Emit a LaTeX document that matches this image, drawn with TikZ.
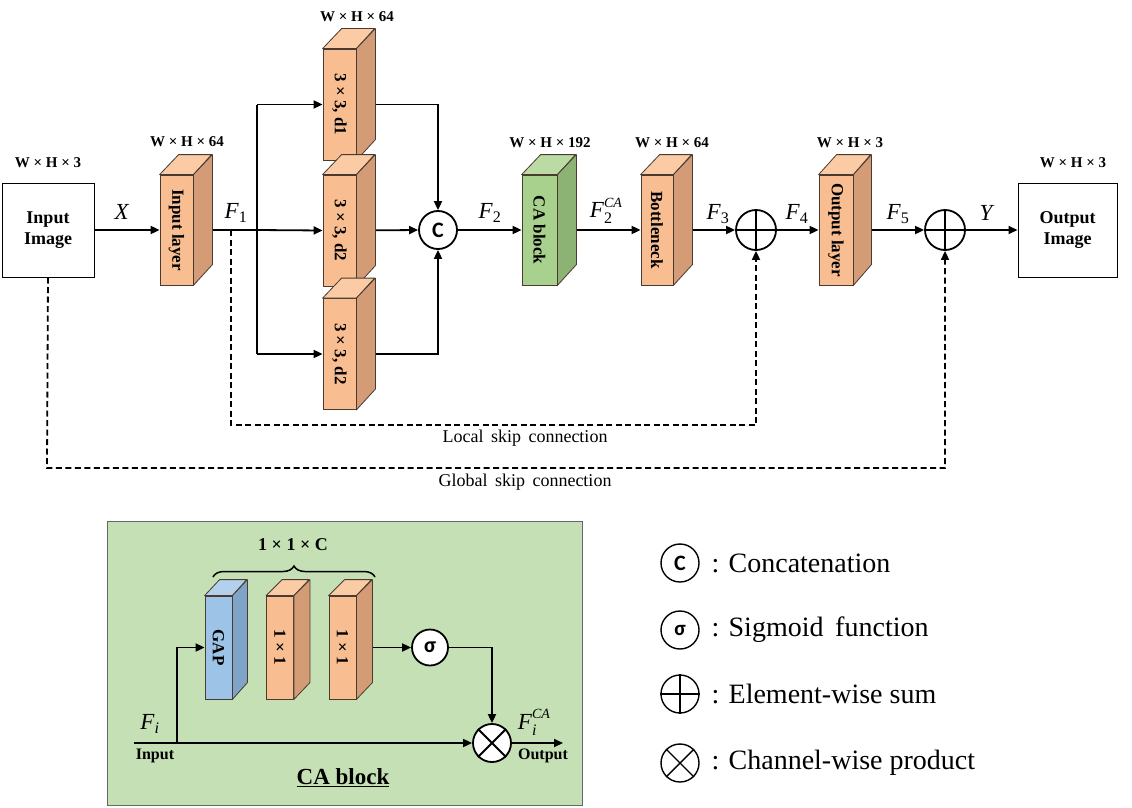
\documentclass[tikz,border=0pt]{standalone}
\usepackage{fontspec}
\usepackage{graphicx}
\setmainfont{Liberation Serif}
\newfontfamily\calfont{Carlito}
\usetikzlibrary{arrows.meta,decorations.pathreplacing,backgrounds,calc}
\pgfdeclarelayer{back}
\pgfsetlayers{back,background,main}
\definecolor{edge}{HTML}{4A3A30}
\definecolor{ofront}{HTML}{F8BE92}
\definecolor{otop}{HTML}{FACBA4}
\definecolor{oside}{HTML}{D49C76}
\definecolor{gfront}{HTML}{A9D18E}
\definecolor{gtop}{HTML}{BADBA3}
\definecolor{gside}{HTML}{8DB374}
\definecolor{bfront}{HTML}{9DC3E6}
\definecolor{btop}{HTML}{B3D1EC}
\definecolor{bside}{HTML}{7FA4C7}
\definecolor{cabg}{HTML}{C5E0B4}
\tikzset{
  conn/.style={line width=1.8pt, -{Triangle[length=9pt,width=8pt]}},
  wire/.style={line width=1.8pt},
  skipline/.style={line width=1.8pt, dash pattern=on 6pt off 3.5pt},
  skiparrow/.style={skipline, -{Triangle[length=9pt,width=8pt]}},
  dimlab/.style={font=\bfseries\fontsize{15}{18}\selectfont},
  mlab/.style={font=\fontsize{23}{25}\selectfont},
  txtlab/.style={font=\fontsize{18}{20}\selectfont},
  oper/.style={circle, draw, line width=1.8pt, minimum size=38pt, inner sep=0pt, fill=white},
  imgbox/.style={draw, line width=1pt, minimum width=92pt, minimum height=94pt, align=center, font=\bfseries\fontsize{18}{21}\selectfont},
  legtext/.style={anchor=west, font=\fontsize{28}{30}\selectfont},
}
\newcommand\slab[9]{%
  \node[draw=edge, line width=0.8pt, fill=#7front, minimum width=#3pt, minimum height=#4pt, inner sep=0pt, font=\bfseries\fontsize{#9}{#9}\selectfont] (#1) at #2 {\rotatebox{-90}{#8}};
  \draw[draw=edge, line width=0.8pt, fill=#7top, line join=round] (#1.north west) -- ++(#5,-#6) -- ++(#3,0) -- (#1.north east) -- cycle;
  \draw[draw=edge, line width=0.8pt, fill=#7side, line join=round] (#1.north east) -- ++(#5,-#6) -- ++(0,#4) -- (#1.south east) -- cycle;
}
\newcommand\subsup[2]{\raisebox{-6pt}{\shortstack[l]{\fontsize{14}{14}\selectfont\textit{#2}\\[3pt]\fontsize{16}{16}\selectfont #1}}}
\begin{document}
\begin{tikzpicture}[x=1pt,y=-1pt]
\useasboundingbox (0,0) rectangle (1132,808);

% ---------- top network ----------
\node[imgbox] (inimg) at (48,230) {Input\\Image};
\node[dimlab] at (48,163) {W × H × 3};

\slab{inl}{(176.5,230)}{33}{110}{19}{20}{o}{Input layer}{17}
\node[dimlab] at (187,142) {W × H × 64};

\slab{da}{(339.5,104.5)}{33}{111}{19}{20}{o}{3 × 3, d1}{17}
\slab{db}{(339.5,230.5)}{33}{111}{19}{20}{o}{3 × 3, d2}{17}
\slab{dc}{(339.5,354)}{33}{111}{19}{20}{o}{3 × 3, d2}{17}
\node[dimlab] at (357,17) {W × H × 64};

\node[oper] (cc) at (438,230) {\calfont\bfseries\fontsize{22}{22}\selectfont C};

\slab{ca}{(539.5,230)}{35}{110}{19}{20}{g}{CA block}{17}
\node[dimlab] at (550,143) {W × H × 192};

\slab{bn}{(657,230)}{32}{110}{19}{20}{o}{Bottleneck}{17}
\node[dimlab] at (672,143) {W × H × 64};

\node[oper, minimum size=40pt] (s1) at (756,230) {};
\draw[line width=1.8pt] (s1.north) -- (s1.south) (s1.west) -- (s1.east);

\slab{outl}{(836,230)}{34}{110}{18}{20}{o}{Output layer}{17}
\node[dimlab] at (850,143) {W × H × 3};

\node[oper, minimum size=40pt] (s2) at (945,230) {};
\draw[line width=1.8pt] (s2.north) -- (s2.south) (s2.west) -- (s2.east);

\node[imgbox, minimum width=99pt] (outimg) at (1067.5,230) {Output\\Image};
\node[dimlab] at (1073,163) {W × H × 3};

% signal labels
\node[mlab] at (122,212) {\textit{X}};
\node[mlab] at (236,213) {\textit{F}\textsubscript{1}};
\node[mlab] at (490,213) {\textit{F}\textsubscript{2}};
\node[mlab] at (606,211) {\textit{F}\subsup{2}{CA}};
\node[mlab] at (718,214) {\textit{F}\textsubscript{3}};
\node[mlab] at (797,214) {\textit{F}\textsubscript{4}};
\node[mlab] at (898,214) {\textit{F}\textsubscript{5}};
\node[mlab] at (987,213) {\textit{Y}};

\coordinate (br) at (257,230);
\coordinate (tap) at (231,230);
\coordinate (lskip) at (231,425);
\coordinate (gskip) at (47,468);

\node[txtlab] at (525,438) {Local\, skip\, connection};
\node[txtlab] at (525,482) {Global\, skip\, connection};

\begin{scope}[on background layer]
  \draw[conn] (inimg.east) -- (inl.west);
  \draw[wire] (inl.east) -- (br);
  \draw[wire] (br |- da.west) -- (br |- dc.west);
  \draw[conn] (br |- da.west) -- (da.west);
  \draw[conn] (br) -- (db.west);
  \draw[conn] (br |- dc.west) -- (dc.west);
  \draw[conn] (da.east) -| (cc.north);
  \draw[conn] (db.east) -- (cc.west);
  \draw[conn] (dc.east) -| (cc.south);
  \draw[conn] (cc.east) -- (ca.west);
  \draw[conn] (ca.east) -- (bn.west);
  \draw[conn] (bn.east) -- (s1.west);
  \draw[conn] (s1.east) -- (outl.west);
  \draw[conn] (outl.east) -- (s2.west);
  \draw[conn] (s2.east) -- (outimg.west);
  \draw[skiparrow] (tap) -- (lskip) -| (s1.south);
  \draw[skiparrow] (inimg.south) -- (gskip) -| (s2.south);
\end{scope}

% ---------- CA block detail ----------
\begin{pgfonlayer}{back}
  \draw[draw=black!60, line width=1pt, fill=cabg] (107,521) rectangle (582,805);
\end{pgfonlayer}

\draw[line width=1.5pt, decorate, decoration={brace, amplitude=11pt}] (213,577) -- (375,577);
\node[font=\bfseries\fontsize{18}{20}\selectfont] at (293,545) {1 × 1 × C};

\slab{gap}{(218.5,647.5)}{27}{103}{15}{16}{b}{GAP}{17}
\slab{ca1}{(280,647.5)}{27}{103}{16}{16}{o}{1 × 1}{17}
\slab{ca2}{(342.5,647.5)}{27}{103}{16}{16}{o}{1 × 1}{17}

\node[oper, minimum size=36pt] (sig) at (430,647.5) {\calfont\bfseries\fontsize{22}{22}\selectfont σ};
\node[oper] (ot) at (492,743) {};
\draw[line width=1.8pt] (ot.north east) -- (ot.south west) (ot.north west) -- (ot.south east);

\coordinate (cin) at (134,743);
\coordinate (ctap) at (177,743);
\coordinate (cout) at (563,743);

\node[mlab] at (150,724) {\textit{F\textsubscript{i}}};
\node[font=\bfseries\fontsize{16}{18}\selectfont] at (155,756) {Input};
\node[mlab] at (534,722) {\textit{F}\subsup{\textit{i}}{CA}};
\node[font=\bfseries\fontsize{16}{18}\selectfont] at (543,756) {Output};
\node[font=\bfseries\fontsize{23}{25}\selectfont] at (343,778) {\underline{CA block}};

\begin{scope}[on background layer]
  \draw[conn] (cin) -- (ot.west);
  \draw[conn] (ctap) |- (gap.west);
  \draw[conn] (ca2.east) -- (sig.west);
  \draw[conn] (sig.east) -| (ot.north);
  \draw[conn] (ot.east) -- (cout);
\end{scope}

% ---------- legend ----------
\node[oper, line width=1.4pt] (lc) at (680,563) {\calfont\bfseries\fontsize{22}{22}\selectfont C};
\node[legtext] at (708,563) {: Concatenation};
\node[oper, line width=1.4pt] (ls) at (680,630) {\calfont\bfseries\fontsize{21}{21}\selectfont σ};
\node[legtext] at (708,630) {: Sigmoid\, function};
\node[oper, line width=1.4pt] (lp) at (680,694) {};
\draw[line width=1.4pt] (lp.north) -- (lp.south) (lp.west) -- (lp.east);
\node[legtext] at (708,694) {: Element-wise sum};
\node[oper, line width=1.4pt] (lx) at (680,763) {};
\draw[line width=1.4pt] (lx.north east) -- (lx.south west) (lx.north west) -- (lx.south east);
\node[legtext] at (708,763) {: Channel-wise product};
\end{tikzpicture}
\end{document}
